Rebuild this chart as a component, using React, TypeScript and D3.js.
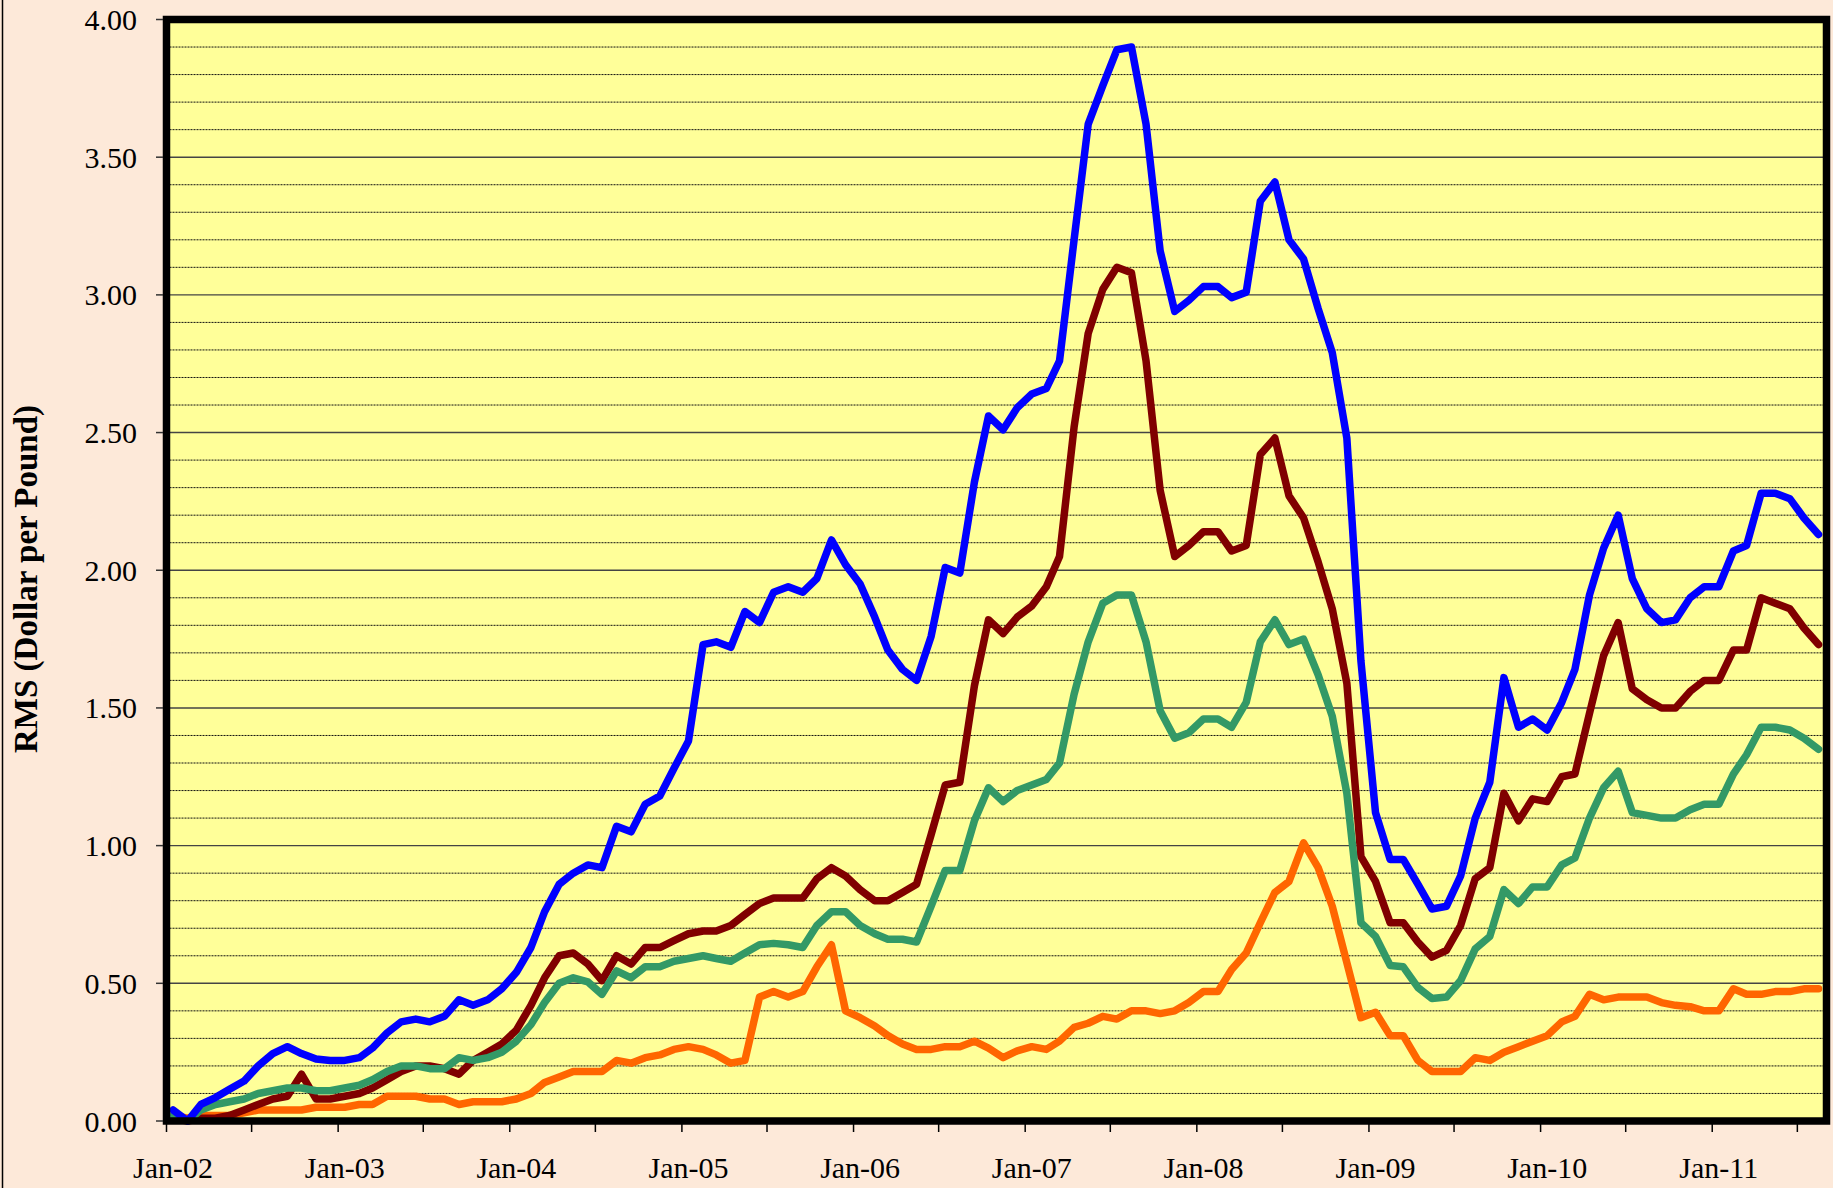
import React from 'react';
import * as d3 from 'd3';

// monthly values, Jan-02 .. Aug-11 (one row per year)
const blueSeries = [
  0.04, 0.0, 0.06, 0.085, 0.115, 0.145, 0.2, 0.245, 0.27, 0.245, 0.225, 0.22,
  0.22, 0.23, 0.265, 0.32, 0.36, 0.37, 0.36, 0.38, 0.44, 0.42, 0.44, 0.48,
  0.54, 0.63, 0.76, 0.86, 0.9, 0.93, 0.92, 1.07, 1.05, 1.15, 1.18, 1.28,
  1.38, 1.73, 1.74, 1.72, 1.85, 1.81, 1.92, 1.94, 1.92, 1.97, 2.11, 2.02,
  1.95, 1.83, 1.71, 1.64, 1.6, 1.76, 2.01, 1.99, 2.32, 2.56, 2.51, 2.59,
  2.64, 2.66, 2.76, 3.2, 3.62, 3.76, 3.89, 3.9, 3.62, 3.16, 2.94, 2.98,
  3.03, 3.03, 2.99, 3.01, 3.34, 3.41, 3.2, 3.13, 2.95, 2.79, 2.48, 1.67,
  1.12, 0.95, 0.95, 0.86, 0.77, 0.78, 0.89, 1.1, 1.23, 1.61, 1.43, 1.46,
  1.42, 1.52, 1.64, 1.91, 2.08, 2.2, 1.97, 1.86, 1.81, 1.82, 1.9, 1.94,
  1.94, 2.07, 2.09, 2.28, 2.28, 2.26, 2.19, 2.13
];

const redSeries = [
  0.01, 0.0, 0.01, 0.01, 0.02, 0.04, 0.06, 0.08, 0.09, 0.17, 0.08, 0.08,
  0.09, 0.1, 0.12, 0.15, 0.18, 0.2, 0.2, 0.19, 0.17, 0.22, 0.25, 0.28,
  0.33, 0.42, 0.52, 0.6, 0.61, 0.57, 0.51, 0.6, 0.57, 0.63, 0.63, 0.655,
  0.68, 0.69, 0.69, 0.71, 0.75, 0.79, 0.81, 0.81, 0.81, 0.88, 0.92, 0.89,
  0.84, 0.8, 0.8, 0.83, 0.86, 1.04, 1.22, 1.23, 1.58, 1.82, 1.77, 1.83,
  1.87, 1.94, 2.05, 2.52, 2.86, 3.02, 3.1, 3.08, 2.76, 2.29, 2.05, 2.09,
  2.14, 2.14, 2.07, 2.09, 2.42, 2.48, 2.27, 2.19, 2.03, 1.86, 1.59, 0.96,
  0.87, 0.72, 0.72, 0.65, 0.595, 0.62, 0.71, 0.88, 0.92, 1.19, 1.09, 1.17,
  1.16, 1.25, 1.26, 1.48, 1.69, 1.81, 1.57, 1.53, 1.5, 1.5, 1.56, 1.6,
  1.6, 1.71, 1.71, 1.9, 1.88, 1.86, 1.79, 1.73
];

const greenSeries = [
  0.02, 0.0, 0.04, 0.06, 0.07, 0.08, 0.1, 0.11, 0.12, 0.12, 0.11, 0.11,
  0.12, 0.13, 0.15, 0.18, 0.2, 0.2, 0.19, 0.19, 0.23, 0.22, 0.23, 0.25,
  0.29, 0.35, 0.43, 0.5, 0.52, 0.505, 0.46, 0.545, 0.52, 0.56, 0.56, 0.58,
  0.59, 0.6, 0.59, 0.58, 0.61, 0.64, 0.645, 0.64, 0.63, 0.71, 0.76, 0.76,
  0.71, 0.68, 0.66, 0.66, 0.65, 0.78, 0.91, 0.91, 1.09, 1.21, 1.16, 1.2,
  1.22, 1.24, 1.3, 1.55, 1.74, 1.88, 1.91, 1.91, 1.74, 1.49, 1.39, 1.41,
  1.46, 1.46, 1.43, 1.52, 1.74, 1.82, 1.73, 1.75, 1.62, 1.47, 1.19, 0.72,
  0.67, 0.565, 0.56, 0.485, 0.445, 0.45, 0.51, 0.625, 0.67, 0.84, 0.79, 0.85,
  0.85, 0.93, 0.955, 1.1, 1.21, 1.27, 1.12, 1.11, 1.1, 1.1, 1.13, 1.15,
  1.15, 1.26, 1.33, 1.43, 1.43, 1.42, 1.39, 1.35
];

const orangeSeries = [
  0.02, 0.01, 0.02, 0.02, 0.02, 0.03, 0.04, 0.04, 0.04, 0.04, 0.05, 0.05,
  0.05, 0.06, 0.06, 0.09, 0.09, 0.09, 0.08, 0.08, 0.06, 0.07, 0.07, 0.07,
  0.08, 0.1, 0.14, 0.16, 0.18, 0.18, 0.18, 0.22, 0.21, 0.23, 0.24, 0.26,
  0.27, 0.26, 0.24, 0.21, 0.22, 0.45, 0.47, 0.45, 0.47, 0.56, 0.64, 0.4,
  0.375, 0.345, 0.31, 0.28, 0.26, 0.26, 0.27, 0.27, 0.29, 0.265, 0.23, 0.255,
  0.27, 0.26, 0.29, 0.34, 0.355, 0.38, 0.37, 0.4, 0.4, 0.39, 0.4, 0.43,
  0.47, 0.47, 0.55, 0.61, 0.72, 0.83, 0.87, 1.01, 0.92, 0.78, 0.575, 0.375,
  0.395, 0.31, 0.31, 0.22, 0.18, 0.18, 0.18, 0.23, 0.22, 0.25, 0.27, 0.29,
  0.31, 0.36, 0.38, 0.46, 0.44, 0.45, 0.45, 0.45, 0.43, 0.42, 0.415, 0.4,
  0.4, 0.48, 0.46, 0.46, 0.47, 0.47, 0.48, 0.48
];

const yTickLabels = ['0.00', '0.50', '1.00', '1.50', '2.00', '2.50', '3.00', '3.50', '4.00'];
const xLabelYears = [2002, 2003, 2004, 2005, 2006, 2007, 2008, 2009, 2010, 2011];

// draw order: last one ends up on top
const seriesList = [
  { name: 'orange', values: orangeSeries, color: '#FF6600' },
  { name: 'red', values: redSeries, color: '#800000' },
  { name: 'green', values: greenSeries, color: '#339966' },
  { name: 'blue', values: blueSeries, color: '#0000FF' }
];

const App = () => {
  const width = 1833;
  const height = 1188;
  const plot = { left: 166.5, right: 1826.5, top: 19.5, bottom: 1121 };
  const font = '"Liberation Serif", "Times New Roman", serif';

  const x = d3
    .scaleTime()
    .domain([new Date(2002, 0, 1), new Date(2011, 8, 1)])
    .range([plot.left, plot.right]);
  const y = d3.scaleLinear().domain([0, 4]).range([plot.bottom, plot.top]);

  // data sits in the middle of each month
  const dates = blueSeries.map((_, i) => new Date(2002, i, 15));

  const line = d3
    .line<number>()
    .x((_, i) => x(dates[i]))
    .y((d) => y(d));

  const minorGrid = d3.range(1, 40).map((i) => i / 10).filter((v) => Math.round(v * 10) % 5 !== 0);
  const majorGrid = d3.range(1, 8).map((i) => i * 0.5);
  const xTicks = x.ticks(d3.timeMonth.every(6) as any);

  return (
    <svg
      width={width}
      height={height}
      style={{ position: 'absolute', left: 0, top: 0, display: 'block', background: '#FDE9D9' }}
    >
      <rect x={0} y={0} width={width} height={height} fill="#FDE9D9" />
      <line x1={2.5} x2={2.5} y1={0} y2={height} stroke="#000" strokeWidth={1.5} />

      {/* plot area */}
      <rect
        x={plot.left}
        y={plot.top}
        width={plot.right - plot.left}
        height={plot.bottom - plot.top}
        fill="#FFFF99"
      />
      {minorGrid.map((v) => (
        <line
          key={'mn' + v}
          x1={plot.left}
          x2={plot.right}
          y1={y(v)}
          y2={y(v)}
          stroke="#111"
          strokeWidth={1}
          strokeDasharray="2,1"
        />
      ))}
      {majorGrid.map((v) => (
        <line
          key={'mj' + v}
          x1={plot.left}
          x2={plot.right}
          y1={y(v)}
          y2={y(v)}
          stroke="#444"
          strokeWidth={1.4}
        />
      ))}

      {seriesList.map((s) => (
        <path
          key={s.name}
          d={line(s.values) || ''}
          fill="none"
          stroke={s.color}
          strokeWidth={7.5}
          strokeLinejoin="round"
          strokeLinecap="round"
        />
      ))}

      <rect
        x={plot.left}
        y={plot.top}
        width={plot.right - plot.left}
        height={plot.bottom - plot.top}
        fill="none"
        stroke="#000"
        strokeWidth={7.5}
      />

      {/* y axis */}
      {yTickLabels.map((t) => (
        <g key={'yt' + t}>
          <line x1={156} x2={163} y1={y(+t)} y2={y(+t)} stroke="#333" strokeWidth={1.5} />
          <text
            x={137}
            y={y(+t)}
            dy="0.35em"
            textAnchor="end"
            fontFamily={font}
            fontSize={30}
            fill="#000"
          >
            {t}
          </text>
        </g>
      ))}
      <text
        transform={`translate(37, 579) rotate(-90)`}
        textAnchor="middle"
        fontFamily={font}
        fontSize={33}
        fontWeight="bold"
        fill="#000"
      >
        RMS (Dollar per Pound)
      </text>

      {/* x axis */}
      {xTicks.map((d) => (
        <line
          key={'xt' + d.getTime()}
          x1={x(d)}
          x2={x(d)}
          y1={plot.bottom + 3}
          y2={plot.bottom + 11}
          stroke="#000"
          strokeWidth={1.5}
        />
      ))}
      {xLabelYears.map((yr) => (
        <text
          key={'xl' + yr}
          x={x(new Date(yr, 0, 15))}
          y={1178}
          textAnchor="middle"
          fontFamily={font}
          fontSize={30}
          fill="#000"
        >
          {d3.timeFormat('%b-%y')(new Date(yr, 0, 1))}
        </text>
      ))}
    </svg>
  );
};

export default App;
